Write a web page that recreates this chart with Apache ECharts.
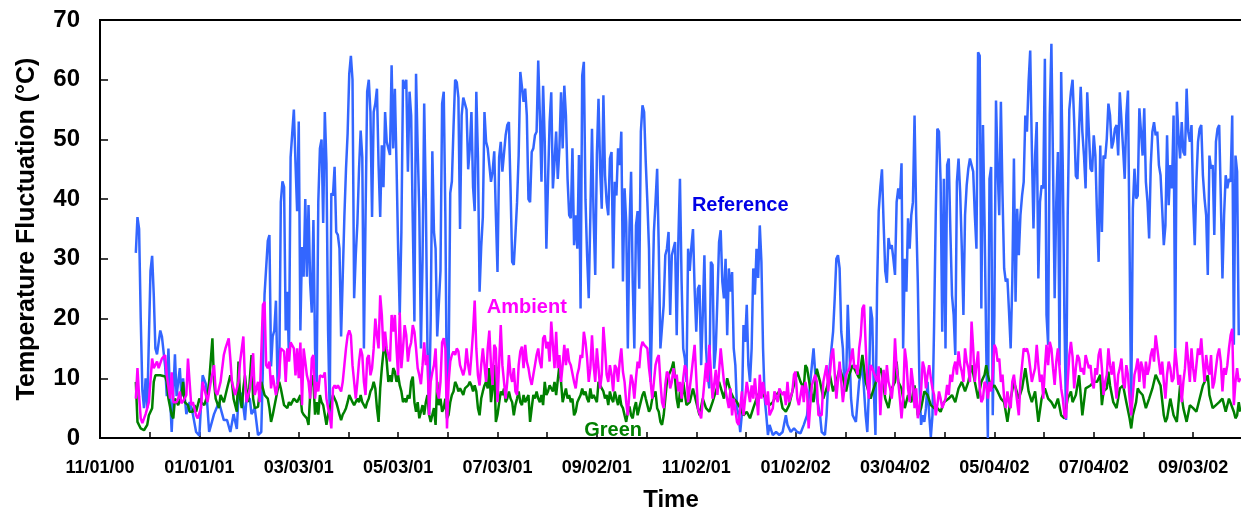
<!DOCTYPE html>
<html>
<head>
<meta charset="utf-8">
<title>Temperature Fluctuation</title>
<script src="https://cdn.jsdelivr.net/npm/echarts@6/dist/echarts.min.js"></script>
<style>
  html, body { margin: 0; padding: 0; background: #fff; }
  #chart { width: 1241px; height: 514px; }
</style>
</head>
<body>
<div id="chart"></div>
<script>
// x values are days counted from 11/01/00
var startDate = Date.UTC(2000, 10, 1);
var labelEvery = 61;

// [day, value]
var reference = [
  [22,31],[23,37],[24,35],[25,20],[26,8],[27,5],[28,10],[29,5],[31,28],[32,30.5],[33,24],[34,15],[35,14],[37,18],[38,17],[40,12],[41,7],[42,15],[43,7],[44,1],
  [46,14],[47,7],[49,11.7],[50,7],[51,10],[53,4],[55,6],[57,4],[59,1],[61,0.4],[63,10.5],[65,9],[67,1],[70,4],[73,6],[76,3],[78,3],[80,1],[82,4],[84,1.5],
  [85,7],[87,7.5],[89,3],[90,7],[92,6.5],[93,4],[95,5],[97,0.5],[99,1],[100,12],[101,24],[102,24],[103,33],[104,34],[105,12],[106,17],[107,18],[108,23],[109,9],[110,10],
  [111,39.5],[112,43],[113,42],[114,18],[115,24.5],[116,13],[117,47],[118,51],[119,55],
  [120,46],[121,38],[122,53],[123,18],[124,32],[125,27],[126,40],[127,27],[128,39],[129,26],[130,21],[131,36.5],[132,15],[133,9],[134,39.5],[135,48.5],[136,50],[137,36],[138,54.6],[139,46],
  [140,18],[141,4],[142,41],[143,40.6],[144,45.4],[145,34.5],[146,34],[147,31.7],[148,17],[149,27],[150,37],[151,45],[152,51],[153,61],[154,64],[155,60],[156,23.4],[157,30.6],[158,36],[159,45],
  [160,51.5],[161,47],[162,15],[163,37],[164,58],[165,60],[166,54.6],[167,37],[168,54.6],[169,56],[170,58.5],[171,45.7],[172,37],[173,49],[174,42],[175,54.6],[176,49.6],[177,48.5],[178,47.4],[179,62.4],
  [180,48.5],[181,58.5],[182,46],[183,31.7],[184,20.6],[185,34.5],[186,60],[187,58.5],[188,60],[189,44.6],[190,58],[191,54],[192,36],[193,19.5],[194,61],[195,48.5],[196,38],[197,15],[198,30],[199,56],
  [200,40],[201,15],[202,4],[203,20],[204,48],[205,34.5],[206,31.7],[207,17],[208,16.7],[209,28],[210,56],[211,58],[212,37],[213,4],[214,12],[215,41],[216,43],[217,52],[218,60],[219,59.6],
  [220,57],[221,35],[222,54],[223,57],[224,57],[225,55],[226,45],[227,48.5],[228,54.6],[229,42],[230,38],[231,58],[232,47],[233,24.5],[234,32],[235,37],[236,54.6],
  [237,49.6],[238,48.5],[239,45.7],[240,42.9],[241,44.6],[242,48],[243,37.3],[244,27.8],[245,47],[246,49.6],[247,44.6],[248,44.6],[249,50.7],[250,52.4],[251,52.9],[252,41.8],[253,29.5],[254,29],[255,34],[256,39.5],
  [257,47.4],[258,61.3],[259,58.8],[260,56.3],[261,58.5],[262,54],[263,40],[264,39.5],[265,47.9],[266,48.5],[267,50.7],[268,51.3],[269,63.2],[270,54],[271,42.9],[272,59],[273,49.6],[274,31.7],[275,42.9],[276,52.9],
  [277,57.9],[278,41.8],[279,46.2],[280,51.3],[281,43.4],[282,48.5],[283,57.9],[284,48.5],[285,59],[286,54],[287,43.4],[288,37.3],[289,36.8],[290,48.5],[291,32.3],[292,37.3],[293,31.7],[294,47.4],[295,21.7],[296,60.7],
  [297,63],[298,40],[299,30.6],[300,23.4],[301,37.3],[302,51.8],[303,36.8],[304,27.3],[305,47.4],[306,56.8],[307,45.1],[308,38.4],[309,57.4],[310,44],[311,39.5],[312,37.3],[313,46.8],[314,47.9],[315,28.4],[316,42.9],
  [317,40.6],[318,48.5],[319,45.7],[320,51.3],[321,26.2],[322,41.8],[323,36.2],[324,15],[325,35],[326,44.6],[327,26.2],[328,15],[329,35.6],[330,38],[331,25],[332,51.3],[333,55.7],[334,54.6],[335,46.2],[336,39.5],
  [337,31.7],[338,9.4],[339,21.7],[340,34.5],[341,39.5],[342,45.1],[343,31.7],[344,15],[345,15],[346,22.2],[347,30.6],[348,31.7],[349,34.5],[350,20.6],[351,30.6],[352,31.7],[353,32.8],[354,17.2],[355,32.8],[356,43.4],
  [357,26.2],[358,15],[359,13.3],
  [360,9.4],[361,31.7],[362,28],[363,32],[364,35],[365,25],[366,17.8],[367,25],[368,25.6],[369,12.2],[370,20.6],[371,30.6],[372,15],[373,10.5],[374,8.3],[375,29.5],[376,29],[377,11.6],[378,15],[379,23.4],
  [380,32.8],[381,34.8],[382,26.2],[383,23.4],[384,30],[385,17.2],[386,28.4],[387,24.5],[388,27.8],[389,15],[390,12.2],[391,5],[392,3.8],[393,1],[394,4],[395,18.9],[396,16.1],[397,22.3],[398,12.2],[399,9.4],
  [400,15],[401,28.4],[402,24],[403,31.7],[404,26.8],[405,35.6],[406,29.5],[407,15],[408,6.7],[409,3.8],[410,0.5],[411,2.2],[413,0.5],[415,1],[417,0.5],[419,1],[421,3.8],[422,2.2],[424,1],[426,1.6],
  [428,1],[430,0.8],[432,2.2],[434,3.8],[436,9.4],[437,12.2],[438,15],[439,11],[440,6.7],[442,3.8],[443,1],[445,0.5],[446,3.8],[447,9.4],[449,15],[450,17.8],[451,23.4],[452,30],[453,30.6],[454,28.4],
  [455,17.8],[456,15],[457,8.3],[458,9.4],[459,22.3],[460,15],[461,6.7],[462,3.8],[464,2.7],[466,9.4],[468,12.2],[470,3.8],[471,1],[472,8],[473,22],[474,20],[475,8],[476,0.5],[477,25],[478,38],
  [479,42],[480,45],[481,36],[482,28],[483,26],[484,33.5],[485,31.7],[486,32.3],[487,30],[488,27.3],[489,39.5],[490,41.8],[491,40],[492,46],[493,15],[494,30],[495,24.5],[496,36.8],[497,31.7],[498,37.3],
  [499,39.5],[500,54],[501,37.3],[502,26],[503,9.4],[504,2.2],[505,3.8],[506,2.7],[507,5],[508,9.4],[509,3.8],[510,0.2],[511,3.8],[512,18.9],[513,37.3],[514,51.8],[515,51.3],[516,42.9],[517,17.8],[518,43.4],
  [519,15],[520,45.7],[521,46.8],[522,34.5],[523,23.9],[524,20.6],[525,13.9],[526,42.9],[527,46.8],[528,41.2],[529,31.7],[530,20.6],[531,37.3],[532,42.3],[533,45.1],[534,46.8],[535,45.7],[536,44.6],[537,37.3],[538,31.7],
  [539,64.6],[540,64],[541,21.7],[542,52.4],[543,35.6],[544,15],[545,0],[546,43.4],[547,45.4],[548,3.8],[549,20.6],[550,56.5],[551,45.1],[552,37.3],[553,56.3],[554,40.6],[555,28.4],[556,26.2],[557,26.7],[558,21.1],
  [559,15],[560,26.2],[561,46.8],[562,22.8],[563,38.4],[564,30.6],[565,37.3],[566,40.6],[567,42.9],[568,54],[569,51.3],[570,59.6],[571,64.9],[572,48.5],[573,35.1],[574,47.3],[575,52.9],[576,26.7],[577,39.5],[578,42.3],
  [579,41.8],[580,63.5],[581,20.6],[582,15.6],[583,54],[584,66],[585,45.7],[586,23.4],[587,39.5],[588,47.9],[589,12.2],[590,61.3],[591,45],[592,20],[593,3],[594,37],[595,55],[596,58],[597,60],
  [598,52.9],[599,43.9],[600,43.4],[601,51.8],[602,58.8],[603,51.3],[604,47.3],[605,41.8],[606,57.9],[607,51.3],[608,45.1],[609,44.6],[610,50.7],[611,47.3],[612,37.3],[613,29.5],[614,49],[615,34.5],[616,47.3],[617,46.8],
  [618,50.1],[619,56],[620,54],[621,48.5],[622,49.6],[623,51.8],[624,52.4],[625,47.3],[626,57.9],[627,58.2],[628,48.5],[629,43.4],[630,54],[631,58.2],[632,31.7],[633,3.8],[634,38.4],[635,45.1],[636,40.1],[637,40.6],
  [638,55.2],[639,55.4],[640,47.3],[641,55.2],[642,42.9],[643,39.5],[644,33.4],[645,45.7],[646,51.3],[647,52.9],[648,50.7],[649,51.3],[650,45.7],[651,44],[652,38.4],[653,32.3],[654,35.6],[655,50.7],[656,39],[657,45.7],
  [658,41.8],[659,54],[660,15],[661,56.3],[662,50.7],[663,46.8],[664,52.9],[665,47.9],[666,47.3],[667,58.5],[668,51.3],[669,49.6],[670,52.4],[671,39.5],[672,32.3],[673,42.9],[674,49.6],[675,51.8],[676,52.4],[677,44],
  [678,40.1],[679,37.3],[680,27.3],[681,47.3],[682,45.1],[683,45.7],[684,34],[685,49.6],[686,51.8],[687,52.4],[688,40.1],[689,26.7],[690,37.3],[691,44],[692,41.8],[693,43.4],[694,42.9],[695,54],[696,15.6],[697,47.3],
  [698,44.6],[699,17.2]
];

var ambient = [
  [22,6.6],[23,11.7],[24,7],[25,3.3],[26,2.5],[28,4],[30,6],[32,13.3],[33,11.7],[35,12.8],[36,11.7],[38,13.3],[40,13.9],[41,10.5],[43,6.6],[44,11],[45,6],[47,6],[48,6.6],[49,7.8],
  [50,5.8],[52,6.6],[53,7.2],[54,13.3],[56,5.5],[57,6],[59,3.8],[60,3.3],[62,5],[63,9.4],[65,7.2],[66,6],[68,9.4],[70,12.2],[71,7.8],[72,7.2],[74,9.4],[76,13.9],[77,15],[79,16.7],
  [80,13.3],[81,9.4],[82,8.3],[83,7.2],[85,9.4],[86,12.8],[88,17],[89,9.4],[90,6],[92,8.3],[93,10.5],[94,14.2],[95,7.2],[97,9.4],[98,6],[100,22.3],[101,22.8],[102,12.2],[103,11.7],[104,12.8],
  [105,8.3],[106,10.5],[107,10.5],[108,7.2],[110,10.5],[111,15],[113,14.5],[114,9.4],[115,15],[116,12.8],
  [117,16],[119,15],[120,10.5],[121,15],[122,10],[123,16],[124,5.5],[125,15],[126,12.8],[127,10.5],[128,9.4],[129,6.6],[130,13.3],[131,13.9],[132,6.6],[133,9.4],[134,7.8],[135,10.5],[136,10.8],[137,10.2],
  [138,11],[139,6.6],[140,5],[141,3.8],[142,1.6],[143,8.3],[144,8.8],[145,8.3],[146,8.8],[147,8.3],[148,7.8],[149,9.4],[150,12.2],[151,15],[152,17.2],[153,18],[154,17.2],[155,12.2],[156,9.4],[157,6.6],
  [158,9.4],[159,12.8],[160,15],[161,13.9],[162,9.4],[163,7.2],[164,13.3],[165,13.9],[166,10.5],[167,11.7],[168,15],[169,20],[170,17.2],[171,15],[172,23.9],[173,20.6],[174,14.5],[175,17.8],[176,15],[178,12.8],
  [179,20.6],[180,17.8],[181,20.6],[182,15],[183,10.5],[184,21],[185,11.7],[186,15],[187,18.9],[188,17.2],[189,12.8],[190,15],[191,16],[192,18.9],[193,17.8],[194,15],[195,11.7],[196,10.5],[197,9],[198,12.2],
  [199,16],[200,12.2],[201,13.9],[202,3.8],[203,9.4],[204,11],[205,12.2],[206,15],[207,7.8],[208,6.6],[209,9.4],[210,16],[211,16.7],[212,15],[213,1.6],[214,9.4],[215,12.8],[216,13.9],[217,14.5],[218,13.9],
  [219,15],[220,14.5],[221,12.2],[223,10.5],[224,11.7],[225,15],[226,12.2],[227,10.5],[228,13.9],[229,17.8],[230,23],[231,15],[232,10.5],[233,8.8],[234,12.2],[235,15],[236,12.2],[237,9.4],[238,15],[239,18],
  [240,12.2],[241,8.9],[242,15.6],[243,15],[244,6],
  [246,18.9],[247,12.2],[248,9.4],[249,6.6],[250,9.4],[251,13.9],[252,10.6],[253,9.4],[254,11.7],[255,7.8],[256,7.2],[257,12.2],[258,14.5],[259,15.3],[260,11.7],[261,15.6],[262,12.8],[263,11.7],[264,10],[265,8.9],
  [266,10.6],[267,12.2],[268,13.9],[269,15],[270,12.8],[271,11.7],[272,16.7],[273,17.2],[274,15],[275,16.1],[276,12.8],[277,19.5],[278,15.6],[279,11.7],[280,17.8],[281,11.7],[282,13.9],[283,9.4],[284,12.2],[285,15.6],
  [286,12.2],[287,15],[288,12.8],[289,12.2],
  [291,9.4],[292,8.3],[293,10.6],[294,11.7],[295,13.9],[296,13.4],[297,17.8],[298,16.1],[299,13.4],[300,9.4],[301,11.7],[302,17.2],[303,12.2],[304,9.4],[305,15],[306,11.7],[307,8.3],[308,10.6],[309,18.6],[310,15],
  [311,10.6],[312,9.4],[313,12.2],[314,10.6],[315,7.8],[316,12.2],[317,11.7],[318,9.4],[319,12.8],[320,15],[321,11.1],[322,9.4],[323,6],[324,3.8],[325,7.8],[326,10.6],[327,9.4],[328,6.6],[329,10],[330,12.8],
  [331,11.7],[332,15],[333,16.1],[334,15.6],
  [336,15],[337,11.7],[338,9.4],[339,6.6],[340,9.4],[341,12.2],[342,13.3],[343,13.9],[344,9.4],[345,6],[346,5],[347,8.9],[348,11.1],[349,10.6],[350,8.3],[351,9.4],[352,11.7],[353,10],[354,10.6],[355,7.8],
  [356,9.4],[357,6.6],[358,10],[359,12.2],
  [360,11.4],[361,6],[363,10.6],[365,15.6],[367,5],[369,3.3],[371,9.4],[372,12.6],[373,9.4],[374,15.6],[376,6.6],[378,11.4],[379,7.2],[381,15],[383,9.4],[386,5],[387,8.3],[388,3.8],[389,6.6],[391,2.7],
  [392,2.2],[394,7.8],[395,3.8],[397,9.4],[399,6],[400,8.8],[401,6.6],[402,10],[404,3.8],[405,10.6],[406,6.6],[407,9.4],[409,5.5],[410,7.8],[411,3.8],[413,5],[414,7.8],[416,6],[417,8.3],[419,7.2],
  [420,7.8],[421,5.5],[422,9.4],[423,6],[425,7.8],[426,10.6],[427,11.1],[428,6.6],[429,5.5],[431,8.8],[432,6],[433,9.4],[434,7.8],[435,1.6],[436,5.5],[437,8.8],[439,10.6],[440,9.4],[441,3.8],[443,3.8],
  [444,9.4],[446,12.2],[447,7.8],[448,10.6],[449,13.9],[450,15],[452,6.6],[454,12.8],[456,6],[458,10.6],[460,11.7],[462,15],[463,11.7],[464,12.2],[465,10.6],[466,15],[467,17.2],[468,21.7],[469,22.3],[470,15.6],
  [471,9.4],[472,6.6],[473,12.2],[474,11.7],[477,9.4],
  [478,12],[479,3.8],[480,9.4],[481,11.4],[482,7.2],[483,12.2],[484,9.4],[485,8.3],[486,6.6],[487,9.4],[488,16.7],[489,11.7],[490,9.4],[491,6.6],[492,3.3],[493,6.6],[494,15],[495,12.8],[496,8.3],[497,6],
  [498,11.7],[499,9.4],[500,5],[501,8.3],[502,3.3],[503,5],[504,7.8],[505,12.8],[506,11.7],[507,8.3],[508,10.6],[509,12.2],[510,10],[511,8.3],[512,7.2],[513,3.8],[514,5.5],[515,7.8],[516,6.6],[517,5],
  [519,6.6],[520,8.9],[521,7.2],[522,10.6],[523,9.4],[524,11.7],[525,12.8],[526,10.6],[527,14.5],[528,12.2],[529,11.1],[530,9.4],[531,15],[532,12.8],[533,11.7],[534,9.4],[535,19.5],[536,15],[537,9.4],[538,12.2],
  [539,14.5],[540,8.3],[541,6],[542,6.6],[543,9.4],[544,8.9],[545,6.6],[546,9.4],[547,7.8],[548,10.6],[549,15.6],[550,15],[551,12.8],[552,13.3],[553,9.4],[554,10.6],[555,6.6],[556,5],[557,7.8],[558,6],
  [559,5],[560,9.4],[561,10.6],[562,8.3],
  [564,3.8],[565,9.4],[566,12.2],[567,15],[568,14.5],[569,15],[570,13.9],[571,11.7],[572,9.4],[573,10.6],[574,11.7],[575,15.6],[576,12.2],[577,9.4],[578,10.6],[579,6.6],[580,11.7],[581,15.6],[582,12.2],[583,16.1],
  [584,15],[585,11.7],[586,8.9],[587,12.8],[588,15],[589,11.7],[590,8.3],[591,6.6],[592,3.8],[593,3.3],[594,9.4],[595,13.9],[596,16.1],
  [597,13.6],[598,8.3],[599,11.7],[600,13.9],[601,13.3],[602,11.1],[603,11.7],[604,10.6],[605,13.9],[607,11.7],[608,12.2],[609,9.4],[610,8.3],[611,11.7],[612,10.6],[613,13.9],[614,15],[615,11.7],[616,7.2],[617,9.4],
  [618,10.6],[619,15],[620,12.2],[621,10.6],[622,12.8],[623,9.4],[624,6.6],[625,10.6],[626,11.7],[627,13.3],[628,9.4],[629,8.3],[630,12.2],[631,10.6],[632,6.6],[633,3.8],[634,7.2],[635,10.6],[636,11.7],[637,13.3],
  [638,9.4],[639,12.8],[640,11.7],[641,8.3],[642,12.8],[643,10.6],[644,11.7],[645,13.9],[646,15],[647,12.8],[648,17.2],[649,15],[651,10.6],[652,12.8],[653,9.4],[654,6.6],[655,10.6],[656,12.8],[657,11.7],[658,9.4],
  [659,10],[660,15],[661,12.2],[662,8.9],[663,10.6],[664,6],[665,9.4],[666,11.7],[667,16.1],[668,12.8],[669,9.4],[670,15],[671,11.7],[672,9.4],[673,12.2],[674,15],[675,13.9],[676,16.7],[677,12.8],[678,9.4],
  [679,13.9],[680,11.7],[681,10.6],[682,13.9],[683,8.3],[684,9.4],[685,11.7],[686,13.9],[687,15],[688,12.8],[689,7.8],[690,11.7],[691,10.6],[692,12.2],[693,15],[694,17.2],[695,18.3],[696,5.5],[697,9.4],[698,11.7],
  [699,9.4],[700,10]
];

var green = [
  [22,9.4],[23,2.7],[24,2.4],[25,1.6],[27,1.3],[29,2.2],[30,3.8],[32,5],[33,9.4],[34,10.5],[37,10.5],[40,10.3],[41,9.4],[42,6.6],[44,3.8],[45,3.3],[46,6.6],[48,5.5],[50,7.2],[51,9.4],
  [52,6],[54,5.5],[55,4.4],[57,4.4],[58,5.5],[59,4.4],[61,6.6],[62,6],[64,5.5],[66,7.2],[67,9.4],[69,16.7],[70,9.4],[71,6.6],[73,5],[74,7.2],[76,6],[78,8.3],[80,10.5],[81,9.4],
  [82,6.6],[84,4.4],[85,12.8],[86,6.6],[87,5],[88,8.3],[89,10.5],[90,7.8],[91,6],[93,13.9],[94,6.6],[95,5],[97,5.2],[98,7.8],[99,9.4],[101,7.2],[103,6.6],[104,5],[105,2.7],[106,3.8],
  [108,6.6],[110,9.4],[111,8.3],[113,5.5],[115,5],[116,6],
  [117,5.5],[119,6.6],[121,6],[123,7.2],[124,4.4],[125,3.9],[126,3.9],[127,3.3],[128,2.2],[129,7.2],[130,10.5],[131,9.4],[132,3.9],[133,6],[134,3.9],[135,7.2],[136,6],[137,5.5],[138,3.9],[139,2.2],
  [140,3.9],[141,5],[142,6],[143,7.2],[144,6.6],[145,6],[146,5],[147,3.9],[148,3],[149,3.9],[150,4.4],[151,5],[152,6],[153,7.2],[154,6.6],[155,6],[156,5.5],[157,5.5],[158,6.6],[159,6],
  [160,7.2],[161,6],[162,5.5],[163,5],[164,6],[165,6.6],[166,7.8],[167,8.3],[168,9.4],[169,8.3],[170,5],[171,2.7],[172,8.3],[173,11.7],[174,14.5],[175,15.5],[176,12.8],[177,9.4],[178,10.5],[179,9.4],
  [180,11.7],[181,11.1],[182,9.4],[183,10.5],[184,8.8],[185,7.8],[186,6],[187,6.6],[188,6],[189,7.2],[190,6.6],[191,9.4],[192,10.3],[193,6],[194,4.4],[195,6],[196,3.3],[197,4.4],[198,5.5],[199,3.9],
  [200,6],[201,7.2],[202,3.9],[203,2.7],[204,3.9],[205,5],[206,2.2],[207,9.4],[208,5.5],[209,6.6],[210,4.4],[211,5],[212,6.6],[213,3.3],[214,3.9],[215,6],[216,7.2],[217,7.8],[218,9.4],[219,8.8],
  [220,7.8],[221,8.3],[222,7.8],[223,7.2],[224,8.3],[225,8.3],[226,8.8],[227,9.4],[228,8.8],[229,7.8],[230,8.8],[231,7.8],[232,5],[233,3.8],[234,6.6],[235,7.8],[236,8.8],[237,9.4],[238,8.3],
  [239,11.7],[240,6],[241,8.3],[242,12.2],[243,2.7],[244,3.9],[246,7.8],[247,7.2],[248,8.3],[249,6],[250,6.6],[251,7.8],[252,6.6],[253,6],[254,3.8],[255,5.5],[256,6.6],[257,7.8],[258,6],[259,5.5],
  [260,7.2],[261,6],[262,6.6],[263,7.2],[264,2.7],[265,5],[266,7.2],[267,6.6],[268,7.8],[269,6.6],[270,6],[271,7.2],[272,5.5],[273,9.4],[274,7.2],[275,7.8],[276,8.8],[277,8.3],[278,7.8],[279,9.4],
  [280,7.2],[282,12.2],[283,9.4],[284,6],[285,7.2],[286,8.3],[287,6.6],[288,7.2],[289,6],[290,6.6],[291,3.8],[292,4.4],[293,6],[294,6.6],[295,7.2],[296,8.3],[297,7.2],[298,7.8],[299,6.6],[300,6],
  [301,8.3],[302,6.6],[303,7.2],[304,6.6],[305,6],[306,9.4],[307,8.8],[308,8.3],[309,7.8],[310,6.6],[311,7.2],[312,5.5],[313,7.8],[314,6.6],[315,6],[316,7.8],[317,6.6],[318,5.5],[319,7.2],[320,5.5],
  [321,5],[322,3.8],[323,2.7],[324,4.4],[325,5.3],[326,3.8],[327,3.3],[328,5],[329,6],[330,3.8],[331,5],[333,7.2],[334,7.8],[335,6.6],[336,5.5],[337,4.4],[338,5],[339,6.6],[340,7.2],[341,7.8],
  [342,5],[343,4.4],[344,2.7],[345,2.2],[346,3.8],[347,6.6],[348,9.4],[349,10.5],[350,11.1],[351,11.7],[352,12.8],[353,9.9],[354,6.6],[355,5],[356,7.8],[357,6],[358,9.4],
  [360,5.5],[362,6],[364,8.3],[366,6],[368,3.8],[370,6.6],[372,5],[374,4.4],[376,6],[378,7.8],[380,9.4],[383,6.6],[385,10],[387,7.8],[389,6.6],[391,6],[393,5],[395,3.8],[397,4.4],[399,3.3],
  [401,5],[403,6.6],[405,7.8],[407,7.2],[409,6.6],[411,5.5],[413,6],[415,7.2],[417,7.8],[419,5],[421,4.4],[423,5.5],[425,7.8],[428,11.1],[430,9.4],[432,8.3],[433,12.2],[434,11.7],[436,8.3],[438,6],
  [440,11.6],[442,9.4],[444,6.6],[446,8.3],[448,10.6],[450,7.8],[452,9.4],[454,11.7],[456,10],[458,7.8],[460,10.6],[462,12.2],[464,11.1],[466,10],[468,13.9],[470,9.4],[473,6.6],[475,8.3],[477,10],[479,11.7],
  [480,10.6],[482,6.6],[484,5],[486,8.3],[488,9.4],[489,12.8],[490,9.4],[492,8.3],[494,5],[496,7.2],[498,6],[500,8.8],[502,3.8],[504,5],[506,7.8],[508,7.2],[510,5.5],[512,5],[514,5],[516,4.4],
  [518,6],[521,6.6],[523,7.2],[525,6],[527,8.3],[529,9.4],[531,7.8],[533,9.4],[535,12.2],[537,9.4],[539,6.6],[541,9.4],[543,10.6],[544,12.2],[545,10.6],[547,8.3],[549,8.8],[551,7.8],[553,6.6],[555,6],
  [557,2.7],[559,6.6],[561,9.4],[564,6.6],[566,8.3],[568,11.7],[570,7.8],[572,6],[574,7.8],[576,2.7],[578,6.6],[580,8.3],[582,6.6],[584,6],[586,5],[588,6.6],[590,3.8],[592,3.3],[594,6.6],[596,7.8],
  [597,6],[599,7.2],[601,10.5],[603,3.8],[605,8.3],[608,8.8],[610,9.4],[612,9.4],[614,10.6],[615,5.5],[616,7.8],[618,8.3],[619,11.1],[620,8.8],[622,6],[624,5],[626,8.3],[628,8.8],[630,6],[632,3.3],
  [633,1.6],[634,3.8],[636,6],[637,8.3],[638,7.8],[640,7.2],[642,5],[644,6.6],[646,8.3],[648,10.6],[651,8.8],[653,3.8],[654,2.7],[655,3.3],[657,6.6],[659,3.8],[661,2.7],[663,8.8],[665,5],[667,2.7],
  [669,5.5],[671,5],[673,4.4],[675,6.6],[677,8.8],[679,9.9],[680,10.5],[681,7.2],[683,5],[685,5.5],[687,6],[689,6.6],[691,4.4],[693,6.6],[696,4.4],[697,3.3],[698,3.8],[699,6],[700,4.4]
];

var yTicks = [0, 10, 20, 30, 40, 50, 60, 70];

var font = "'Liberation Sans', Arial, Helvetica, sans-serif";

function pad(n) {
  return (n < 10 ? '0' : '') + n;
}

function dayLabel(v) {
  var k = v / labelEvery;
  if (Math.abs(k - Math.round(k)) > 1e-6) {
    return '';
  }
  var d = new Date(startDate + Math.round(v) * 86400000);
  return pad(d.getUTCMonth() + 1) + '/' + pad(d.getUTCDate()) + '/' + pad(d.getUTCFullYear() % 100);
}

function lineSeries(name, data, color) {
  return {
    name: name,
    type: 'line',
    data: data,
    showSymbol: false,
    symbol: 'none',
    smooth: false,
    lineStyle: { color: color, width: 2.5 },
    itemStyle: { color: color },
    emphasis: { disabled: true }
  };
}

// series names written on the plot, anchored in data coordinates
var notes = [
  { text: 'Reference', at: [393, 39], color: '#0000e6' },
  { text: 'Ambient', at: [262, 21.8], color: '#ff00ff' },
  { text: 'Green', at: [315, 1.2], color: '#008000' }
];

var chart = echarts.init(document.getElementById('chart'), null, { renderer: 'canvas' });

var option = {
  animation: false,
  backgroundColor: '#ffffff',
  grid: {
    left: 100, right: -1, top: 20, bottom: 76,
    outerBoundsMode: 'none',
    containLabel: false,
    show: true, borderColor: '#000', borderWidth: 2, backgroundColor: 'transparent'
  },
  xAxis: {
    type: 'value',
    min: 0,
    max: 701,
    interval: labelEvery / 2,
    axisLine: { show: true, onZero: false, lineStyle: { color: '#000', width: 2 } },
    axisTick: { show: true, inside: true, length: 6, lineStyle: { color: '#000', width: 1.5 } },
    axisLabel: {
      formatter: dayLabel,
      showMaxLabel: false,
      color: '#000', fontSize: 18, fontWeight: 'bold', fontFamily: font, margin: 21
    },
    splitLine: { show: false },
    name: 'Time',
    nameLocation: 'middle',
    nameGap: 50,
    nameTextStyle: { color: '#000', fontSize: 24, fontWeight: 'bold', fontFamily: font }
  },
  yAxis: {
    type: 'value',
    min: yTicks[0],
    max: yTicks[yTicks.length - 1],
    interval: 10,
    axisLine: { show: true, lineStyle: { color: '#000', width: 2 } },
    axisTick: { show: true, inside: true, length: 8, lineStyle: { color: '#000', width: 1.5 } },
    axisLabel: { color: '#000', fontSize: 24, fontWeight: 'bold', fontFamily: font, margin: 20 },
    splitLine: { show: false },
    name: 'Temperature Fluctuation (°C)',
    nameLocation: 'middle',
    nameGap: 60,
    nameRotate: 90,
    nameTextStyle: { color: '#000', fontSize: 25, fontWeight: 'bold', fontFamily: font }
  },
  series: [
    lineSeries('Reference', reference, '#3366ff'),
    lineSeries('Green', green, '#008000'),
    lineSeries('Ambient', ambient, '#ff00ff')
  ]
};

chart.setOption(option);

var noteGraphics = notes.map(function (n) {
  var p = chart.convertToPixel({ gridIndex: 0 }, n.at);
  return {
    type: 'text',
    x: p[0],
    y: p[1],
    z: 100,
    silent: true,
    style: {
      text: n.text,
      fill: n.color,
      font: 'bold 20px ' + font,
      textAlign: 'center',
      textVerticalAlign: 'middle'
    }
  };
});
chart.setOption({ graphic: noteGraphics });
</script>
</body>
</html>
